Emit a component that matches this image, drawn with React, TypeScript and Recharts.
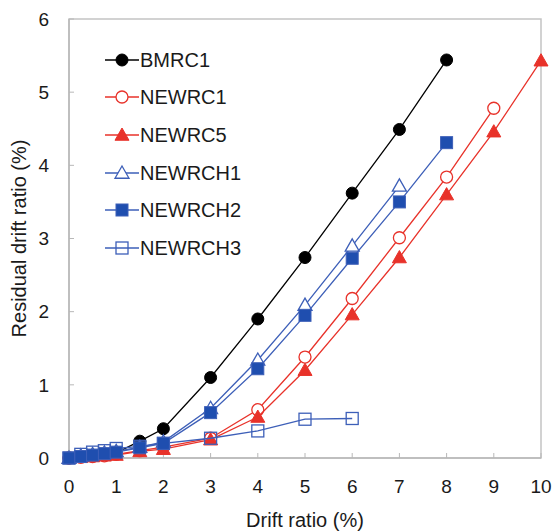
import React from 'react';
import { ScatterChart, Scatter, XAxis, YAxis, ReferenceArea } from 'recharts';

const driftRatio = [0, 0.25, 0.5, 0.75, 1, 1.5, 2, 3, 4, 5, 6, 7, 8, 9, 10];

const BMRC1 = [0, 0.02, 0.03, 0.05, 0.07, 0.23, 0.4, 1.1, 1.9, 2.74, 3.62, 4.49, 5.44];
const NEWRC1 = [0, 0.01, 0.02, 0.03, 0.05, 0.1, 0.15, 0.27, 0.66, 1.38, 2.18, 3.01, 3.84, 4.78];
const NEWRC5 = [0, 0.01, 0.02, 0.03, 0.04, 0.09, 0.12, 0.25, 0.56, 1.2, 1.96, 2.74, 3.6, 4.46, 5.43];
const NEWRCH1 = [0, 0.03, 0.05, 0.07, 0.09, 0.15, 0.22, 0.68, 1.34, 2.09, 2.9, 3.72];
const NEWRCH2 = [0, 0.02, 0.04, 0.06, 0.08, 0.14, 0.2, 0.62, 1.22, 1.95, 2.73, 3.5, 4.31];
const NEWRCH3 = [0, 0.05, 0.08, 0.1, 0.13, 0.16, 0.2, 0.27, 0.37, 0.53, 0.54];

const xTicks = [0, 1, 2, 3, 4, 5, 6, 7, 8, 9, 10];
const yTicks = [0, 1, 2, 3, 4, 5, 6];

const RED = '#e8322a';
const BLUE = '#3d5fb8';
const BLUE_FILL = '#1f4eaf';
const FONT = '"Liberation Sans", Arial, sans-serif';

type Shape = 'circle' | 'triangle' | 'square';

const series = [
  { name: 'BMRC1', values: BMRC1, color: '#000000', fill: '#000000', shape: 'circle' as Shape },
  { name: 'NEWRC1', values: NEWRC1, color: RED, fill: '#ffffff', shape: 'circle' as Shape },
  { name: 'NEWRC5', values: NEWRC5, color: RED, fill: RED, shape: 'triangle' as Shape },
  { name: 'NEWRCH1', values: NEWRCH1, color: BLUE, fill: '#ffffff', shape: 'triangle' as Shape },
  { name: 'NEWRCH2', values: NEWRCH2, color: BLUE, fill: BLUE_FILL, shape: 'square' as Shape },
  { name: 'NEWRCH3', values: NEWRCH3, color: BLUE, fill: 'none', shape: 'square' as Shape },
];

const drawOrder = [0, 1, 2, 3, 5, 4];

function Marker({ cx, cy, shape, color, fill }: { cx: number; cy: number; shape: Shape; color: string; fill: string }) {
  if (cx == null || cy == null || isNaN(cx) || isNaN(cy)) return <g />;
  const hollow = fill === '#ffffff' || fill === 'none';
  const sw = hollow ? 1.3 : 1;
  if (shape === 'circle') {
    return <circle cx={cx} cy={cy} r={6} fill={fill} stroke={color} strokeWidth={sw} />;
  }
  if (shape === 'triangle') {
    const s = 7;
    const pts = `${cx},${cy - s} ${cx + s},${cy + s * 0.75} ${cx - s},${cy + s * 0.75}`;
    return <polygon points={pts} fill={fill} stroke={color} strokeWidth={sw} />;
  }
  const h = 6;
  return <rect x={cx - h} y={cy - h} width={h * 2} height={h * 2} fill={fill} stroke={color} strokeWidth={sw} />;
}

function LegendBox() {
  return (
    <div style={{ position: 'absolute', left: 105, top: 41, fontFamily: FONT, fontSize: 20, color: '#1a1a1a', lineHeight: 1 }}>
      {series.map((s) => (
        <div key={s.name} style={{ height: 37.6, display: 'flex', alignItems: 'center' }}>
          <svg width={35} height={20} style={{ display: 'block' }}>
            <line x1={0} y1={10} x2={34} y2={10} stroke={s.color} strokeWidth={1.3} />
            <Marker cx={17} cy={10} shape={s.shape} color={s.color} fill={s.fill} />
          </svg>
          <span style={{ marginLeft: 0 }}>{s.name}</span>
        </div>
      ))}
    </div>
  );
}

export default function App() {
  const tickStyle = { fontFamily: FONT, fontSize: 19, fill: '#1a1a1a' };
  return (
    <div style={{ position: 'relative', width: 555, height: 532, overflow: 'hidden' }}>
      <style>{'html,body{margin:0;padding:0;}'}</style>
      <div style={{ position: 'absolute', left: 8, top: 8 }}>
        <ScatterChart width={547} height={524} margin={{ top: 11, right: 14, bottom: 0, left: 0 }}>
          <ReferenceArea x1={0} x2={10} y1={0} y2={6} fill="none" stroke="#c4c4c4" strokeWidth={1.5} ifOverflow="visible" />
          <XAxis
            type="number"
            dataKey="x"
            domain={[0, 10]}
            ticks={xTicks}
            interval={0}
            height={74}
            tickSize={-5}
            tickMargin={27}
            axisLine={{ stroke: '#b8b8b8', strokeWidth: 1.5 }}
            tickLine={{ stroke: '#b8b8b8' }}
            tick={tickStyle}
            label={{ value: 'Drift ratio (%)', position: 'insideBottom', offset: 5, style: { fontFamily: FONT, fontSize: 20, fill: '#1a1a1a' } }}
          />
          <YAxis
            type="number"
            dataKey="y"
            domain={[0, 6]}
            ticks={yTicks}
            interval={0}
            width={61}
            tickSize={-5}
            tickMargin={25}
            axisLine={{ stroke: '#b8b8b8', strokeWidth: 1.5 }}
            tickLine={{ stroke: '#b8b8b8' }}
            tick={tickStyle}
            label={{ value: 'Residual drift ratio (%)', angle: -90, position: 'insideLeft', offset: 11, style: { fontFamily: FONT, fontSize: 20, fill: '#1a1a1a', textAnchor: 'middle' } }}
          />
          {drawOrder.map((i) => {
            const s = series[i];
            const data = s.values.map((v, k) => ({ x: driftRatio[k], y: v }));
            return (
              <Scatter
                key={s.name}
                name={s.name}
                data={data}
                isAnimationActive={false}
                line={{ stroke: s.color, strokeWidth: 1.3 }}
                lineType="joint"
                shape={(p: any) => <Marker cx={p.cx} cy={p.cy} shape={s.shape} color={s.color} fill={s.fill} />}
              />
            );
          })}
        </ScatterChart>
      </div>
      <LegendBox />
    </div>
  );
}
